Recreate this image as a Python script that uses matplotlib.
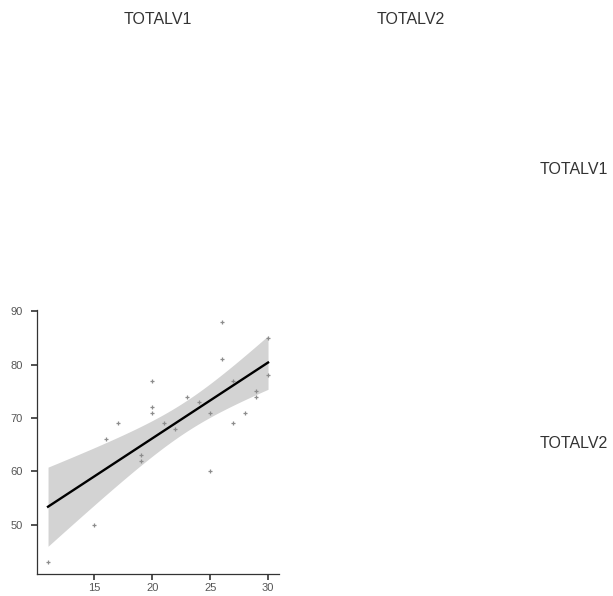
import numpy as np
import matplotlib
matplotlib.use("Agg")
import matplotlib.pyplot as plt

plt.rcParams['font.family'] = ['Liberation Sans', 'DejaVu Sans']

# variable names of the matrix
var_names = ["TOTALV1", "TOTALV2"]

# scatter data (TOTALV1 on x, TOTALV2 on y)
totalv1 = [11, 15, 16, 17, 19, 19, 20, 20, 20, 21, 22, 23,
           24, 25, 25, 26, 26, 27, 27, 28, 29, 29, 30, 30]
totalv2 = [43, 50, 66, 69, 63, 62, 77, 72, 71, 69, 68, 74,
           73, 71, 60, 88, 81, 77, 69, 71, 75, 74, 85, 78]

x_ticks = [15, 20, 25, 30]
y_ticks = [50, 60, 70, 80, 90]

T_975 = 2.074  # t quantile, df = n - 2 = 22

x = np.array(totalv1, dtype=float)
y = np.array(totalv2, dtype=float)
n = len(x)

# linear fit + 95% confidence band
slope, intercept = np.polyfit(x, y, 1)
resid = y - (slope * x + intercept)
s = np.sqrt(np.sum(resid ** 2) / (n - 2))
sxx = np.sum((x - x.mean()) ** 2)
xs = np.linspace(x.min(), x.max(), 200)
ys = slope * xs + intercept
se = s * np.sqrt(1 / n + (xs - x.mean()) ** 2 / sxx)

fig = plt.figure(figsize=(6.13, 5.96), dpi=100)
ax = fig.add_axes([0.0604, 0.037, 0.3948, 0.443])

ax.fill_between(xs, ys - T_975 * se, ys + T_975 * se, color='#d3d3d3', lw=0)
ax.plot(xs, ys, color='black', lw=1.7)
ax.scatter(x, y, marker='+', s=12, color='#8c8c8c', linewidths=0.9, zorder=3)

xr = x.max() - x.min()
yr = y.max() - y.min()
ax.set_xlim(x.min() - 0.05 * xr, x.max() + 0.05 * xr)
ax.set_ylim(y.min() - 0.05 * yr, y.max() + 0.05 * yr)
ax.set_xticks(x_ticks)
ax.set_yticks(y_ticks)

for side in ['top', 'right']:
    ax.spines[side].set_visible(False)
for side in ['left', 'bottom']:
    ax.spines[side].set_color('#333333')
    ax.spines[side].set_linewidth(0.9)
ax.tick_params(length=4, width=1.2, color='#333333', labelsize=8,
               labelcolor='#555555')
ax.tick_params(axis='x', pad=2.5)
ax.tick_params(axis='y', pad=6)

# column headers and row labels
fig.text(158 / 613, 1 - 20 / 596, var_names[0], ha='center', va='center',
         fontsize=11.5, color='#333333')
fig.text(411 / 613, 1 - 20 / 596, var_names[1], ha='center', va='center',
         fontsize=11.5, color='#333333')
fig.text(540 / 613, 1 - 170 / 596, var_names[0], ha='left', va='center',
         fontsize=11.5, color='#333333')
fig.text(540 / 613, 1 - 443 / 596, var_names[1], ha='left', va='center',
         fontsize=11.5, color='#333333')

fig.savefig("out.png", dpi=100)
